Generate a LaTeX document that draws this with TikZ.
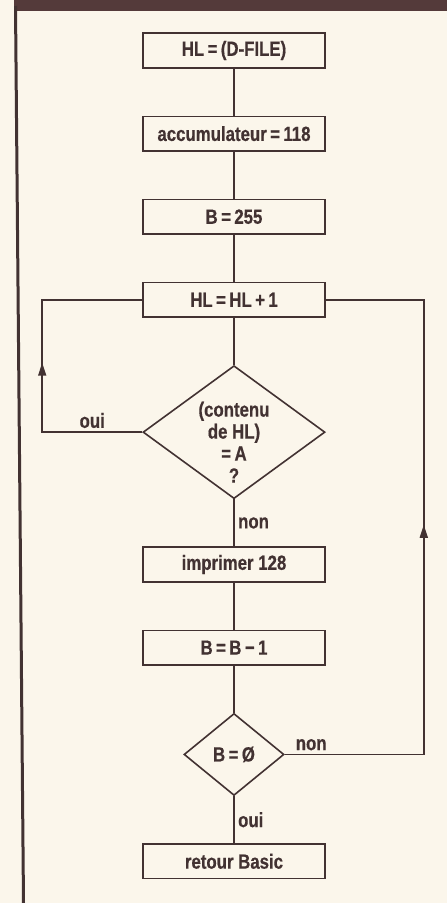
\documentclass[tikz,border=0pt]{standalone}
\usepackage{fontspec}
\setmainfont{Liberation Sans}[FakeStretch=0.82, FakeBold=0.5]
\usetikzlibrary{positioning, shapes.geometric, arrows.meta, decorations.markings}
\definecolor{paper}{RGB}{251,246,235}
\definecolor{ink}{RGB}{66,50,50}
\definecolor{band}{RGB}{84,58,58}
\newcommand\flowfont{\bfseries\fontsize{20.5}{22}\selectfont}

\begin{document}
\begin{tikzpicture}[x=1pt, y=1pt,
  node distance=47pt,
  box/.style={rectangle, draw=ink, line width=1.6pt, text=ink,
              minimum width=182pt, minimum height=34.5pt, inner sep=0pt,
              font=\flowfont},
  test/.style={diamond, draw=ink, line width=1.6pt, text=ink,
               inner sep=-8pt, align=center, font=\flowfont},
  lbl/.style={font=\flowfont, text=ink},
  link/.style={draw=ink, line width=1.6pt},
  backlink/.style={link, postaction={decorate},
                   decoration={markings, mark=at position #1 with
                     {\arrow[ink]{Triangle[length=13pt, width=8pt]}}}}
]
  \path[use as bounding box, fill=paper] (0,0) rectangle (447,-903);
  % frame of the page
  \fill[band] (14,0) rectangle (447,-11);
  \draw[ink, line width=3pt] (15.5,-6) -- (23.5,-903);

  \node[box] (dfile) at (234,-50.5) {HL\,=\,(D-FILE)};
  \node[box, below=of dfile] (acc) {accumulateur\,=\,118};
  \node[box, below=of acc] (bset) {B\,=\,255};
  \node[box, below=of bset] (hlinc) {HL\,=\,HL\,+\,1};
  \node[test, below=of hlinc, minimum width=182pt, minimum height=133pt,
        label={[lbl, align=center, yshift=-10pt]center:{(contenu\\de HL)\\=\,A\\?}}]
        (same) {};
  \node[box, below=of same] (print) {imprimer 128};
  \node[box, below=of print] (bdec) {B\,=\,B\,−\,1};
  \node[test, below=of bdec, minimum width=100pt, minimum height=82pt]
        (bzero) {B\,=\,Ø};
  \node[box, below=of bzero] (basic) {retour Basic};

  \draw[link] (dfile) -- (acc);
  \draw[link] (acc) -- (bset);
  \draw[link] (bset) -- (hlinc);
  \draw[link] (hlinc) -- (same);
  \draw[link] (same) -- node[right, lbl] {non} (print);
  \draw[link] (print) -- (bdec);
  \draw[link] (bdec) -- (bzero);
  \draw[link] (bzero) -- node[right, lbl] {oui} (basic);

  % the two loops back to HL = HL + 1
  \draw[backlink=0.51] (same.west) -- node[above, lbl] {oui} ++(-100,0)
    |- (hlinc.west);
  \draw[backlink=0.533] (bzero.east) -- node[pos=0.19, above, lbl] {non}
    ++(139,0) |- (hlinc.east);
\end{tikzpicture}
\end{document}
